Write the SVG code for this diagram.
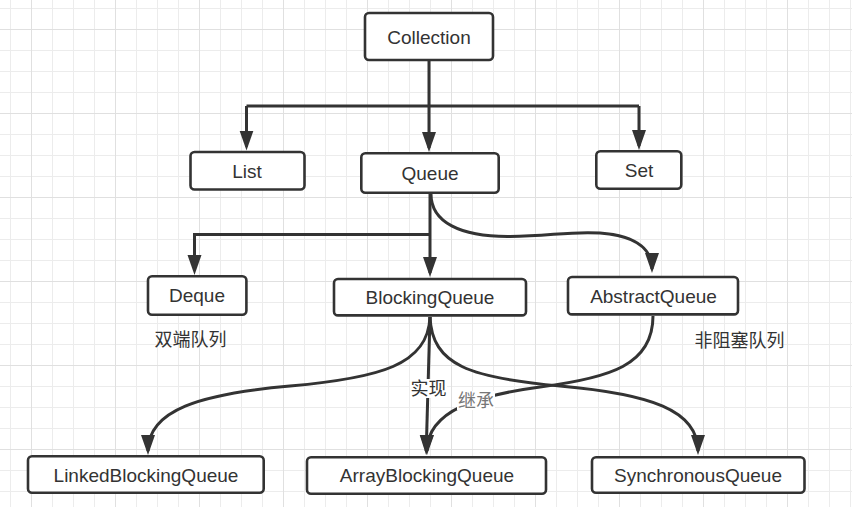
<svg xmlns="http://www.w3.org/2000/svg" width="852" height="507" viewBox="0 0 852 507">
  <style>
    .box { fill: #ffffff; stroke: #333333; stroke-width: 2.6; }
    .lbl { font-family: "Liberation Sans", Arial, sans-serif; font-size: 19px; fill: #333333; text-anchor: middle; }
    .cjk { font-family: "Noto Sans CJK SC", "Noto Sans", sans-serif; font-size: 18px; fill: #333333; text-anchor: middle; }
    .edge { fill: none; stroke: #333333; stroke-width: 3; stroke-linejoin: miter; }
    .arrow { marker-end: url(#arrow); }
  </style>
  <defs>
    <pattern id="minor" patternUnits="userSpaceOnUse" x="10" y="8" width="21" height="21">
      <path d="M0.5,0 V21 M0,0.5 H21" stroke="#ececec" stroke-width="1" fill="none"/>
    </pattern>
    <pattern id="major" patternUnits="userSpaceOnUse" x="31" y="29" width="84" height="84">
      <path d="M0.5,0 V84 M0,0.5 H84" stroke="#e0e0e0" stroke-width="1" fill="none"/>
    </pattern>
    <marker id="arrow" markerUnits="userSpaceOnUse" markerWidth="22" markerHeight="16" refX="16" refY="7" orient="auto">
      <path d="M0,0 L20,7 L0,14 Z" fill="#333333"/>
    </marker>
  </defs>

  <rect width="852" height="507" fill="#ffffff"/>
  <rect width="852" height="507" fill="url(#minor)"/>
  <rect width="852" height="507" fill="url(#major)"/>

  <g id="connectors">
    <!-- Collection to List / Queue / Set -->
    <path class="edge" d="M429,61 V106"/>
    <path class="edge" d="M246.5,106 H639"/>
    <path class="edge arrow" d="M246.5,106 V146.5"/>
    <path class="edge arrow" d="M429,106 V148"/>
    <path class="edge arrow" d="M639,106 V146"/>
    <!-- Queue to Deque / BlockingQueue / AbstractQueue -->
    <path class="edge arrow" d="M430,194 V273"/>
    <path class="edge arrow" d="M430,234.5 H194.5 V271"/>
    <path class="edge arrow" d="M431,194 C431,222 460,237 510,236.5 C550,236 570,231 600,233 C640,236 652,252 652,269"/>
    <!-- BlockingQueue to implementations -->
    <path class="edge arrow" d="M430,317 C428,365 380,378 290,386 C200,394 148,410 148,451"/>
    <path class="edge arrow" d="M430,317 L426.2,451"/>
    <path class="edge arrow" d="M430,317 C432,365 470,378 560,386 C650,394 698,410 698,451"/>
    <!-- AbstractQueue to ArrayBlockingQueue -->
    <path class="edge arrow" d="M653,316 C653,365 610,378 540,387 C480,395 427,410 427,451"/>
    <!-- edge labels -->
    <rect x="410" y="379" width="37" height="19" fill="#ffffff"/>
    <text class="cjk" x="428.5" y="395">实现</text>
    <rect x="457" y="391" width="38" height="19" fill="#ffffff"/>
    <text class="cjk" x="476" y="407" style="fill:#777777">继承</text>
  </g>

  <g id="collection">
    <rect class="box" x="365" y="13" width="128" height="47" rx="4"/>
    <text class="lbl" x="429" y="43.5">Collection</text>
  </g>
  <g id="list">
    <rect class="box" x="190.5" y="152" width="114" height="37.5" rx="4"/>
    <text class="lbl" x="247" y="177.5">List</text>
  </g>
  <g id="queue">
    <rect class="box" x="361.3" y="153.3" width="137.4" height="39.4" rx="4"/>
    <text class="lbl" x="430" y="180">Queue</text>
  </g>
  <g id="set">
    <rect class="box" x="596.3" y="151.3" width="85" height="37.4" rx="4"/>
    <text class="lbl" x="639" y="177">Set</text>
  </g>
  <g id="deque">
    <rect class="box" x="148" y="276.3" width="98.4" height="38.4" rx="4"/>
    <text class="lbl" x="197" y="302.3">Deque</text>
  </g>
  <g id="blockingQueue">
    <rect class="box" x="334" y="279" width="192" height="36.4" rx="4"/>
    <text class="lbl" x="430" y="304">BlockingQueue</text>
  </g>
  <g id="abstractQueue">
    <rect class="box" x="568" y="277" width="170" height="37.4" rx="4"/>
    <text class="lbl" x="653.5" y="302.5">AbstractQueue</text>
  </g>
  <g id="linkedBlockingQueue">
    <rect class="box" x="28" y="456.3" width="235.7" height="36.4" rx="4"/>
    <text class="lbl" x="146" y="481.5">LinkedBlockingQueue</text>
  </g>
  <g id="arrayBlockingQueue">
    <rect class="box" x="307" y="457.3" width="239" height="36.4" rx="4"/>
    <text class="lbl" x="427" y="482">ArrayBlockingQueue</text>
  </g>
  <g id="synchronousQueue">
    <rect class="box" x="592" y="457.3" width="212.5" height="35.4" rx="4"/>
    <text class="lbl" x="698" y="482">SynchronousQueue</text>
  </g>

  <g id="notes">
    <text class="cjk" x="190.5" y="346">双端队列</text>
    <text class="cjk" x="739.5" y="347">非阻塞队列</text>
  </g>
</svg>
